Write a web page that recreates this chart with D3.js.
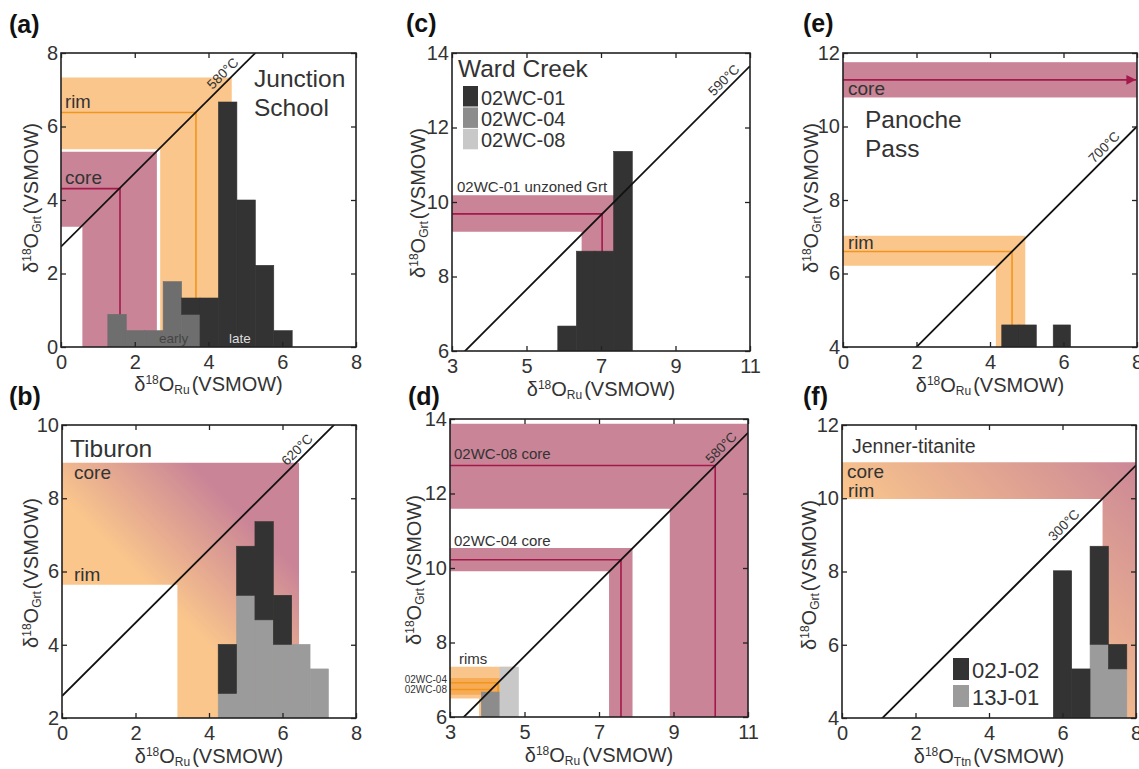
<!DOCTYPE html>
<html>
<head>
<meta charset="utf-8">
<script src="https://cdn.jsdelivr.net/npm/d3@7"></script>
<style>
  body { margin: 0; background: #fff; }
  text { font-family: "Liberation Sans", Arial, Helvetica, sans-serif; }
</style>
</head>
<body>
<svg id="fig" width="1139" height="769"></svg>
<script>
// ---- data ----
// (a) Junction School, delta Grt - delta Ru = offset along 580 C
const aTicks = [0, 2, 4, 6, 8];
const aOffset = 2.73;
const aRimGrt = [5.38, 6.38, 7.33];
const aRimRu = [2.69, 3.66, 4.63];
const aCoreGrt = [3.27, 4.31, 5.31];
const aCoreRu = [0.58, 1.6, 2.6];
const aBins = [1.27, 1.77, 2.27, 2.77, 3.27, 3.77, 4.27, 4.77, 5.27, 5.77];
const aEarly = [2, 1, 1, 4, 2, 0, 0, 0, 0, 0];
const aLate = [0, 0, 0, 0, 1, 3, 15, 9, 5, 1];

// (b) Tiburon, 620 C
const bTicksX = [0, 2, 4, 6, 8];
const bTicksY = [2, 4, 6, 8, 10];
const bOffset = 2.6;
const bBandGrt = [5.64, 8.97];
const bBandRu = [3.14, 6.45];
const bBins = [4.25, 4.75, 5.25, 5.75, 6.25, 6.75];
const bLower = [1, 5, 4, 3, 3, 2];
const bUpper = [2, 2, 4, 2, 0, 0];

// (c) Ward Creek, 590 C
const cTicksX = [3, 5, 7, 9, 11];
const cTicksY = [6, 8, 10, 12, 14];
const cOffset = 2.65;
const cGrt = [9.2, 9.68, 10.18];
const cRu = [6.48, 7.03, 7.35];
const cBins = [5.84, 6.34, 6.84, 7.34];
const c01 = [1, 4, 4, 8];
const cSamples = ['02WC-01', '02WC-04', '02WC-08'];

// (d) Ward Creek cores and rims, 580 C
const dOffset = 2.63;
const d08CoreGrt = [11.59, 12.75, 13.87];
const d08CoreRu = [8.9, 10.12, 11];
const d04CoreGrt = [9.91, 10.22, 10.54];
const d04CoreRu = [7.27, 7.59, 7.9];
const d04RimGrt = [6.6, 6.92, 7.35];
const d04RimRu = [3.97, 4.29, 4.72];
const d08RimGrt = [6.5, 6.74, 7.05];
const d08RimRu = [3.78, 4.11, 4.42];
const d04Bins = [3.84], d04 = [1];
const d08Bins = [4.34], d08 = [2];

// (e) Panoche Pass, 700 C
const eTicksX = [0, 2, 4, 6, 8];
const eTicksY = [4, 6, 8, 10, 12];
const eOffset = 2.0;
const eCoreGrt = [10.79, 11.27, 11.75];
const eRimGrt = [6.21, 6.6, 7.03];
const eRimRu = [4.16, 4.6, 4.96];
const eBins = [4.32, 4.79, 5.72];
const eCounts = [1, 1, 1];

// (f) Jenner-titanite, 300 C
const fOffset = 2.9;
const fBandGrt = [9.98, 10.98];
const fBandTtn = [7.09, 8];
const fBins = [5.75, 6.25, 6.75, 7.25];
const f13J = [0, 0, 3, 2];
const f02J = [6, 2, 4, 1];
const fSamples = ['02J-02', '13J-01'];

// ---- styles ----
const ORANGE = '#fac68c', ORANGE_LINE = '#f0961e';
const MAUVE = '#c98497', MAUVE_LINE = '#a3194b';
const DARK = '#333333';

const svg = d3.select('#fig');
const defs = svg.append('defs');

defs.append('marker').attr('id', 'arrow')
  .attr('viewBox', '0 0 10 10').attr('refX', 10).attr('refY', 5)
  .attr('markerWidth', 7).attr('markerHeight', 6).attr('markerUnits', 'strokeWidth')
  .attr('orient', 'auto')
  .append('path').attr('d', 'M0,0 L10,5 L0,10 Z').attr('fill', MAUVE_LINE);

function makePanel(id, box, xDom, yDom) {
  defs.append('clipPath').attr('id', 'clip-' + id)
    .append('rect').attr('width', box.w).attr('height', box.h);
  const g = svg.append('g').attr('transform', `translate(${box.left},${box.top})`);
  const x = d3.scaleLinear().domain(xDom).range([0, box.w]);
  const y = d3.scaleLinear().domain(yDom).range([box.h, 0]);
  const plot = g.append('g').attr('clip-path', `url(#clip-${id})`);
  return { id, box, g, plot, x, y };
}

const line = p => d3.line().x(d => p.x(d[0])).y(d => p.y(d[1]));

// L-shaped band: horizontal over grt range, vertical over ru range
function lBand(p, grt, ru, fill, opacity) {
  const x0 = p.x.domain()[0], y0 = p.y.domain()[0];
  const gLo = grt[0], gHi = grt[grt.length - 1];
  const rLo = ru[0], rHi = ru[ru.length - 1];
  const pts = [[x0, gHi], [rHi, gHi], [rHi, y0], [rLo, y0], [rLo, gLo], [x0, gLo]];
  p.plot.append('path').attr('d', line(p)(pts) + 'Z')
    .attr('fill', fill).attr('fill-opacity', opacity == null ? 1 : opacity);
}

function lLine(p, grt, ru, stroke) {
  const x0 = p.x.domain()[0], y0 = p.y.domain()[0];
  p.plot.append('path').attr('d', line(p)([[x0, grt[1]], [ru[1], grt[1]], [ru[1], y0]]))
    .attr('fill', 'none').attr('stroke', stroke).attr('stroke-width', 1.6);
}

function hist(p, bins, width, counts, unit, below, color) {
  const base = p.y.domain()[0];
  const rows = bins.map((b, i) => ({ b, lo: below ? below[i] : 0, n: counts[i] })).filter(d => d.n > 0);
  p.plot.selectAll(null).data(rows).join('rect')
    .attr('x', d => p.x(d.b))
    .attr('width', d => p.x(d.b + width) - p.x(d.b))
    .attr('y', d => p.y(base + (d.lo + d.n) * unit))
    .attr('height', d => p.y(base + d.lo * unit) - p.y(base + (d.lo + d.n) * unit))
    .attr('fill', color).attr('stroke', color).attr('stroke-width', 0.6);
}

function iso(p, offset, label, at) {
  const [xa, xb] = p.x.domain();
  p.plot.append('line')
    .attr('x1', p.x(xa)).attr('y1', p.y(xa + offset))
    .attr('x2', p.x(xb)).attr('y2', p.y(xb + offset))
    .attr('stroke', '#111').attr('stroke-width', 1.8);
  const ang = Math.atan2(p.y(1) - p.y(0), p.x(1) - p.x(0)) * 180 / Math.PI;
  p.g.append('text')
    .attr('transform', `translate(${p.x(at)},${p.y(at + offset)}) rotate(${ang})`)
    .attr('dy', -4).attr('text-anchor', 'middle')
    .attr('font-size', 13.5).attr('fill', '#333').text(label);
}

function axes(p, xTicks, yTicks) {
  const { w, h } = p.box;
  const style = s => {
    s.select('.domain').remove();
    s.selectAll('line').attr('stroke', '#222').attr('stroke-width', 1.3);
    s.selectAll('text').attr('font-size', 20).attr('fill', '#333');
  };
  p.g.append('g').attr('transform', `translate(0,${h})`)
    .call(d3.axisBottom(p.x).tickValues(xTicks).tickSize(-5).tickPadding(8)).call(style);
  p.g.append('g')
    .call(d3.axisTop(p.x).tickValues(xTicks).tickSize(-5).tickFormat('')).call(style);
  p.g.append('g')
    .call(d3.axisLeft(p.y).tickValues(yTicks).tickSize(-5).tickPadding(3)).call(style);
  p.g.append('g').attr('transform', `translate(${w},0)`)
    .call(d3.axisRight(p.y).tickValues(yTicks).tickSize(-5).tickFormat('')).call(style);
  p.g.append('rect').attr('width', w).attr('height', h)
    .attr('fill', 'none').attr('stroke', '#222').attr('stroke-width', 1.6);
}

function deltaLabel(t, sub) {
  t.append('tspan').text('δ');
  t.append('tspan').attr('font-size', 12).attr('dy', -7).text('18');
  t.append('tspan').attr('dy', 7).text('O');
  t.append('tspan').attr('font-size', 12).attr('dy', 3).text(sub);
  t.append('tspan').attr('dy', -3).attr('dx', 2).text('(VSMOW)');
}

function titles(p, xSub, xBase, yX, yC, letter, lx, ly) {
  const cx = p.box.left + p.box.w / 2;
  const tx = svg.append('text').attr('x', cx).attr('y', xBase)
    .attr('text-anchor', 'middle').attr('font-size', 20).attr('fill', '#333');
  deltaLabel(tx, xSub);
  const ty = svg.append('text').attr('transform', `translate(${yX},${yC}) rotate(-90)`)
    .attr('text-anchor', 'middle').attr('font-size', 20).attr('fill', '#333');
  deltaLabel(ty, 'Grt');
  svg.append('text').attr('x', lx).attr('y', ly).attr('font-size', 25)
    .attr('font-weight', 'bold').attr('fill', '#111').text(letter);
}

function label(xPx, yPx, text, size, color, anchor) {
  svg.append('text').attr('x', xPx).attr('y', yPx).attr('font-size', size)
    .attr('text-anchor', anchor || 'start')
    .attr('fill', color || '#333').text(text);
}

function gradient(id, p, from, to) {
  const gr = defs.append('linearGradient').attr('id', id).attr('gradientUnits', 'userSpaceOnUse')
    .attr('x1', p.x(from[0])).attr('y1', p.y(from[1]))
    .attr('x2', p.x(to[0])).attr('y2', p.y(to[1]));
  gr.append('stop').attr('offset', 0).attr('stop-color', ORANGE);
  gr.append('stop').attr('offset', 1).attr('stop-color', MAUVE);
  return `url(#${id})`;
}

function legend(names, colors, x, y0, step, sw, sh, size) {
  svg.selectAll(null).data(names).join('rect')
    .attr('x', x).attr('y', (d, i) => y0 + i * step).attr('width', sw).attr('height', sh)
    .attr('fill', (d, i) => colors[i]);
  svg.selectAll(null).data(names).join('text')
    .attr('x', x + sw + 3).attr('y', (d, i) => y0 + i * step + sh - 2)
    .attr('font-size', size).attr('fill', '#333').text(d => d);
}

// ---------- (a) ----------
const pa = makePanel('a', { left: 61, top: 53, w: 295, h: 294 }, [0, 8], [0, 8]);
lBand(pa, aRimGrt, aRimRu, ORANGE);
lBand(pa, aCoreGrt, aCoreRu, MAUVE);
lLine(pa, aRimGrt, aRimRu, ORANGE_LINE);
lLine(pa, aCoreGrt, aCoreRu, MAUVE_LINE);
hist(pa, aBins, 0.5, aEarly, 8 / 18, null, '#6e6e6e');
hist(pa, aBins, 0.5, aLate, 8 / 18, aEarly, DARK);
iso(pa, aOffset, '580°C', 4.55);
axes(pa, aTicks, aTicks);
titles(pa, 'Ru', 391, 38, 198, '(a)', 9, 33);
label(254, 87, 'Junction', 24.5);
label(254, 116, 'School', 24.5);
label(65, 108, 'rim', 18.5);
label(65, 184, 'core', 19);
label(159, 343, 'early', 13.5, '#444');
label(229, 343, 'late', 13.5, '#ddd');

// ---------- (c) ----------
const pc = makePanel('c', { left: 452, top: 53, w: 298, h: 298 }, [3, 11], [6, 14]);
lBand(pc, cGrt, cRu, MAUVE);
lLine(pc, cGrt, cRu, MAUVE_LINE);
hist(pc, cBins, 0.5, c01, 0.67, null, DARK);
iso(pc, cOffset, '590°C', 10.46);
axes(pc, cTicksX, cTicksY);
titles(pc, 'Ru', 396, 425, 203, '(c)', 406, 32);
label(458, 77, 'Ward Creek', 24.5);
label(457, 192, '02WC-01 unzoned Grt', 15);
legend(cSamples, [DARK, '#8c8c8c', '#c8c8c8'], 463, 86, 21.4, 15, 20.5, 20);

// ---------- (e) ----------
const pe = makePanel('e', { left: 843, top: 53, w: 294, h: 294 }, [0, 8], [4, 12]);
pe.plot.append('rect').attr('x', 0).attr('width', pe.box.w)
  .attr('y', pe.y(eCoreGrt[2])).attr('height', pe.y(eCoreGrt[0]) - pe.y(eCoreGrt[2]))
  .attr('fill', MAUVE);
pe.plot.append('line').attr('x1', 0).attr('x2', pe.x(8) - 1)
  .attr('y1', pe.y(eCoreGrt[1])).attr('y2', pe.y(eCoreGrt[1]))
  .attr('stroke', MAUVE_LINE).attr('stroke-width', 1.6).attr('marker-end', 'url(#arrow)');
lBand(pe, eRimGrt, eRimRu, ORANGE);
lLine(pe, eRimGrt, eRimRu, ORANGE_LINE);
hist(pe, eBins, 0.47, eCounts, 0.6, null, DARK);
iso(pe, eOffset, '700°C', 7.27);
axes(pe, eTicksX, eTicksY);
titles(pe, 'Ru', 392, 818, 198, '(e)', 803, 32);
label(848, 95, 'core', 19);
label(865, 128, 'Panoche', 24.5);
label(865, 157, 'Pass', 24.5);
label(848, 249, 'rim', 18.5);

// ---------- (b) ----------
const pb = makePanel('b', { left: 62, top: 425, w: 294, h: 293 }, [0, 8], [2, 10]);
lBand(pb, bBandGrt, bBandRu, gradient('gb', pb, [2.5, 5.5], [4.75, 7.75]));
hist(pb, bBins, 0.5, bLower, 0.67, null, '#9b9b9b');
hist(pb, bBins, 0.5, bUpper, 0.67, bLower, DARK);
iso(pb, bOffset, '620°C', 6.56);
axes(pb, bTicksX, bTicksY);
titles(pb, 'Ru', 763, 38, 573, '(b)', 9, 405);
label(70, 457, 'Tiburon', 24.5);
label(74, 479, 'core', 19);
label(74, 581, 'rim', 19);

// ---------- (d) ----------
const pd = makePanel('d', { left: 450, top: 419, w: 298, h: 298 }, [3, 11], [6, 14]);
lBand(pd, d08CoreGrt, d08CoreRu, MAUVE);
lBand(pd, d04CoreGrt, d04CoreRu, MAUVE);
lLine(pd, d08CoreGrt, d08CoreRu, MAUVE_LINE);
lLine(pd, d04CoreGrt, d04CoreRu, MAUVE_LINE);
lBand(pd, d04RimGrt, d04RimRu, '#f5962a', 0.55);
lBand(pd, d08RimGrt, d08RimRu, '#f5962a', 0.55);
lLine(pd, d04RimGrt, d04RimRu, ORANGE_LINE);
lLine(pd, d08RimGrt, d08RimRu, ORANGE_LINE);
hist(pd, d04Bins, 0.5, d04, 0.67, null, '#8c8c8c');
hist(pd, d08Bins, 0.5, d08, 0.67, null, '#c8c8c8');
iso(pd, dOffset, '580°C', 10.44);
axes(pd, cTicksX, cTicksY);
titles(pd, 'Ru', 762, 421, 570, '(d)', 408, 405);
label(454, 459, '02WC-08 core', 15);
label(454, 546, '02WC-04 core', 15);
label(459, 664, 'rims', 15);
label(447, 683, '02WC-04', 10, '#333', 'end');
label(447, 692.5, '02WC-08', 10, '#333', 'end');

// ---------- (f) ----------
const pf = makePanel('f', { left: 842, top: 425, w: 294, h: 293 }, [0, 8], [4, 12]);
lBand(pf, fBandGrt, fBandTtn, gradient('gf', pf, [1.5, 8.5], [6.25, 13.25]));
hist(pf, fBins, 0.5, f13J, 0.67, null, '#9b9b9b');
hist(pf, fBins, 0.5, f02J, 0.67, f13J, DARK);
iso(pf, fOffset, '300°C', 6.2);
axes(pf, eTicksX, eTicksY);
titles(pf, 'Ttn', 763, 816, 575, '(f)', 803, 405);
label(852, 453, 'Jenner-titanite', 19.5);
label(847, 478, 'core', 19);
label(848, 497, 'rim', 19);
legend(fSamples, [DARK, '#9b9b9b'], 953, 658, 27, 16, 22, 22);
</script>
</body>
</html>
